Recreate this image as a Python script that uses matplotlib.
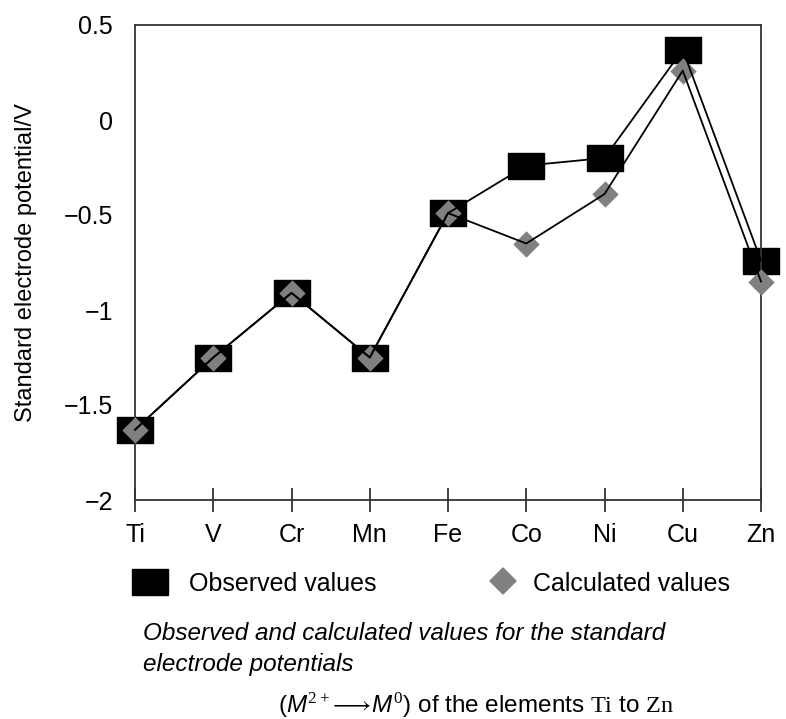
import numpy as np
import matplotlib.pyplot as plt
from matplotlib.path import Path

elements = ["Ti", "V", "Cr", "Mn", "Fe", "Co", "Ni", "Cu", "Zn"]
observed = [-1.63, -1.25, -0.91, -1.25, -0.49, -0.24, -0.20, 0.37, -0.74]
calculated = [-1.63, -1.25, -0.91, -1.25, -0.49, -0.65, -0.39, 0.26, -0.85]
yticks = [0.5, 0, -0.5, -1, -1.5, -2]
ytick_labels = ["0.5", "0", "\u22120.5", "\u22121", "\u22121.5", "\u22122"]

plt.rcParams["font.family"] = ["Liberation Sans", "DejaVu Sans"]
plt.rcParams["mathtext.fontset"] = "custom"
plt.rcParams["mathtext.rm"] = "Liberation Serif"
plt.rcParams["mathtext.it"] = "Liberation Sans:italic"

# wide black box and grey diamond marker shapes
rect = Path([(-1.4, -1), (1.4, -1), (1.4, 1), (-1.4, 1), (-1.4, -1)],
            [Path.MOVETO, Path.LINETO, Path.LINETO, Path.LINETO, Path.CLOSEPOLY])
diamond = Path([(0, 1), (1, 0), (0, -1), (-1, 0), (0, 1)],
               [Path.MOVETO, Path.LINETO, Path.LINETO, Path.LINETO, Path.CLOSEPOLY])

fig = plt.figure(figsize=(7.86, 7.19), dpi=100)
ax = fig.add_axes([135 / 786, 1 - 500 / 719, 626 / 786, 475 / 719])

x = np.arange(len(elements))
ax.plot(x, observed, linestyle="none", marker=rect, markersize=26,
        color="black", zorder=2, clip_on=False)
ax.plot(x, calculated, linestyle="none", marker=diamond, markersize=19,
        color="#808080", markeredgewidth=0, zorder=3, clip_on=False)
ax.plot(x, observed, color="black", linewidth=1.3, zorder=4, clip_on=False)
ax.plot(x, calculated, color="black", linewidth=1.3, zorder=4, clip_on=False)

ax.set_xlim(0, 8)
ax.set_ylim(-2, 0.5)
ax.set_xticks(x)
ax.set_xticklabels(elements, fontsize=18)
ax.set_yticks(yticks)
ax.set_yticklabels(ytick_labels, fontsize=18)
ax.tick_params(axis="x", direction="inout", length=17, width=1.3, pad=8, color="#333333")
ax.tick_params(axis="y", length=0, pad=16)
for s in ax.spines.values():
    s.set_linewidth(1.3)
    s.set_color("#333333")
ax.set_ylabel("Standard electrode potential/V", fontsize=17, labelpad=19)

# legend row below axis
fig.patches.append(plt.Rectangle((132 / 786, 1 - 595 / 719), 36 / 786, 26 / 719,
                                 transform=fig.transFigure, color="black", figure=fig))
fig.text(189 / 786, 1 - 584 / 719, "Observed values", fontsize=18, va="center")
fig.patches.append(plt.Polygon([(503 / 786, 1 - 568 / 719), (516 / 786, 1 - 581 / 719),
                                (503 / 786, 1 - 594 / 719), (490 / 786, 1 - 581 / 719)],
                               closed=True, transform=fig.transFigure,
                               color="#808080", figure=fig))
fig.text(533 / 786, 1 - 584 / 719, "Calculated values", fontsize=18, va="center")

# caption
fig.text(143 / 786, 1 - 633 / 719, "Observed and calculated values for the standard",
         fontsize=17.5, style="italic", va="center")
fig.text(143 / 786, 1 - 664 / 719, "electrode potentials",
         fontsize=17.5, style="italic", va="center")
fig.text(278 / 786, 1 - 705 / 719,
         r"($\mathit{M}^{2+}\!\longrightarrow\!\mathit{M}^{0}$) of the elements "
         r"$\mathrm{Ti}$ to $\mathrm{Zn}$",
         fontsize=17.5, va="center")

fig.savefig("out.png", dpi=100)
